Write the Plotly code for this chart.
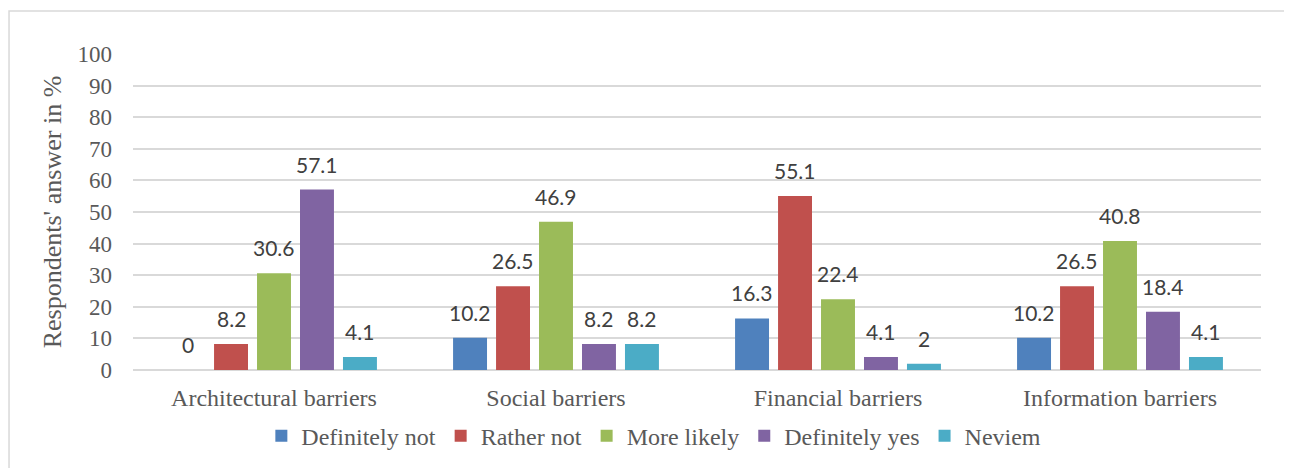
import plotly.graph_objects as go

categories = ["Architectural barriers", "Social barriers", "Financial barriers", "Information barriers"]
series_names = ["Definitely not", "Rather not", "More likely", "Definitely yes", "Neviem"]
definitely_not = [0, 10.2, 16.3, 10.2]
rather_not = [8.2, 26.5, 55.1, 26.5]
more_likely = [30.6, 46.9, 22.4, 40.8]
definitely_yes = [57.1, 8.2, 4.1, 18.4]
neviem = [4.1, 8.2, 2, 4.1]
y_ticks = [0, 10, 20, 30, 40, 50, 60, 70, 80, 90, 100]

series_values = [definitely_not, rather_not, more_likely, definitely_yes, neviem]
colors = ["#4F81BD", "#C0504D", "#9BBB59", "#8064A2", "#4BACC6"]

W, H = 1284, 460
ML, MR, MT, MB = 125, 31, 46, 98
BARGAP, GROUPGAP = 0.238, 0.21
plot_w = W - ML - MR
slot = plot_w / len(categories) * (1 - BARGAP) / len(series_names)

fig = go.Figure()
annotations = []
for i, (name, vals, col) in enumerate(zip(series_names, series_values, colors)):
    fig.add_trace(go.Bar(
        x=categories, y=vals, name=name, marker_color=col,
        marker_line_width=0,
    ))
    for c, v in zip(categories, vals):
        annotations.append(dict(
            x=c, y=v, xref="x", yref="y", text=f"{v:g}", showarrow=False,
            xshift=(i - (len(series_names) - 1) / 2) * slot, yshift=11,
            yanchor="bottom", xanchor="center",
            font=dict(family="Lato, Open Sans, sans-serif", size=21, color="#404040"),
        ))

fig.update_layout(
    width=W, height=H,
    barmode="group", bargap=BARGAP, bargroupgap=GROUPGAP,
    paper_bgcolor="white", plot_bgcolor="white",
    margin=dict(l=ML, r=MR, t=MT, b=MB, autoexpand=False),
    font=dict(family="Liberation Serif, serif", size=22, color="#595959"),
    showlegend=True,
    legend=dict(orientation="h", xref="container", yref="container",
                x=0.503, xanchor="center", y=0.069, yanchor="middle",
                font=dict(family="Liberation Serif, serif", size=24, color="#595959"),
                itemwidth=30, tracegroupgap=0),
    annotations=annotations,
    shapes=[dict(type="rect", xref="paper", yref="paper",
                 x0=-0.1099, x1=1.05, y0=-0.5, y1=1.136,
                 line=dict(color="#D9D9D9", width=1.5), fillcolor="rgba(0,0,0,0)", layer="below")],
)
fig.update_yaxes(
    range=[0, 100], tickvals=y_ticks, showgrid=True, gridcolor="#D9D9D9", gridwidth=1.5,
    zeroline=True, zerolinecolor="#D9D9D9", zerolinewidth=1.5,
    showline=False, ticklabelstandoff=20, automargin=False,
    tickfont=dict(family="Liberation Serif, serif", size=23, color="#595959"),
    title=dict(text="Respondents' answer in %", standoff=8,
               font=dict(family="Liberation Serif, serif", size=26, color="#595959")),
)
fig.update_xaxes(
    showline=False, showgrid=False, ticklabelstandoff=11, automargin=False,
    tickfont=dict(family="Liberation Serif, serif", size=24, color="#595959"),
)

fig.write_html("out.html")
